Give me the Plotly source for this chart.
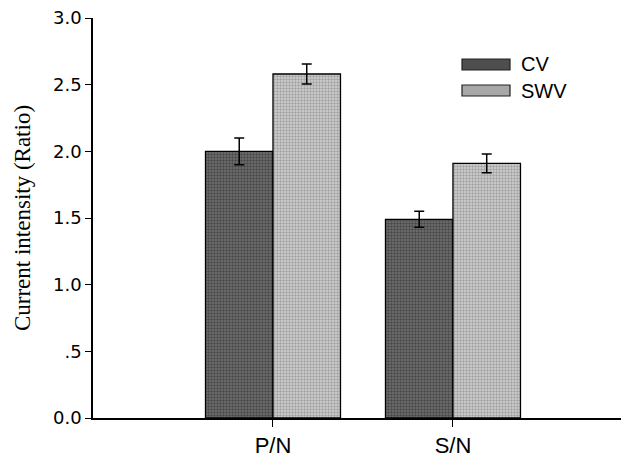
import plotly.graph_objects as go

categories = ["P/N", "S/N"]
cv_values = [2.00, 1.49]
cv_errors = [0.10, 0.06]
swv_values = [2.58, 1.91]
swv_errors = [0.075, 0.07]
series_names = ["CV", "SWV"]
y_tickvals = [0, 0.5, 1.0, 1.5, 2.0, 2.5, 3.0]
y_ticktext = ["0.0", ".5", "1.0", "1.5", "2.0", "2.5", "3.0"]

CV_FG, CV_BG, CV_AVG = "#1e1e1e", "#727272", "#4e4e4e"
SWV_FG, SWV_BG, SWV_AVG = "#6e6e6e", "#d4d4d4", "#a8a8a8"

fig = go.Figure()
fig.add_trace(go.Bar(
    name=series_names[0], x=categories, y=cv_values,
    error_y=dict(type="data", array=cv_errors, color="black", thickness=1.5, width=5),
    marker=dict(color=CV_AVG, line=dict(color="black", width=1.3),
                pattern=dict(shape=".", size=3, solidity=0.5, fgcolor=CV_FG, bgcolor=CV_BG)),
    showlegend=False,
))
fig.add_trace(go.Bar(
    name=series_names[1], x=categories, y=swv_values,
    error_y=dict(type="data", array=swv_errors, color="black", thickness=1.5, width=5),
    marker=dict(color=SWV_AVG, line=dict(color="black", width=1.3),
                pattern=dict(shape=".", size=3, solidity=0.5, fgcolor=SWV_FG, bgcolor=SWV_BG)),
    showlegend=False,
))

# page body has an 8px margin; the plot area spans x 93..629, y 18..418 on screen
PX0, PX1, PY0, PY1 = 93, 629, 18, 418

def px(x):
    return (x - PX0) / (PX1 - PX0)

def py(y):
    return (PY1 - y) / (PY1 - PY0)

legend_items = [(series_names[0], CV_AVG, 64.5), (series_names[1], SWV_AVG, 90.5)]
for name, fill, yc in legend_items:
    fig.add_shape(type="rect", xref="paper", yref="paper",
                  x0=px(462), x1=px(510), y0=py(yc + 5.5), y1=py(yc - 5.5),
                  line=dict(color="#222", width=1.2), fillcolor=fill)
    fig.add_annotation(xref="paper", yref="paper", x=px(519), y=py(yc), text=name,
                       showarrow=False, xanchor="left", yanchor="middle",
                       font=dict(family="Liberation Sans, Arial", size=20, color="black"))

fig.update_layout(
    width=621, height=453,
    margin=dict(l=PX0 - 8, r=0, t=PY0 - 8, b=461 - PY1),
    paper_bgcolor="white", plot_bgcolor="white",
    barmode="group", bargap=0.25, bargroupgap=0,
    font=dict(family="Liberation Sans, Arial", size=20, color="black"),
)
fig.update_xaxes(
    range=[-1.0, 1.978], showline=True, linecolor="black", linewidth=1.5,
    ticks="outside", ticklen=7, tickcolor="black", tickwidth=1,
    showgrid=False, zeroline=False,
    tickfont=dict(family="Liberation Sans, Arial", size=22),
)
fig.update_yaxes(
    range=[0, 3], showline=True, linecolor="black", linewidth=1.5,
    ticks="outside", ticklen=6, tickcolor="black", tickwidth=1,
    tickvals=y_tickvals, ticktext=y_ticktext, ticklabeloverflow="allow",
    showgrid=False, zeroline=False,
    tickfont=dict(family="DejaVu Sans", size=18),
    title=dict(text="Current intensity (Ratio)", standoff=16,
               font=dict(family="Liberation Serif, Times New Roman", size=23)),
)

fig.write_html("out.html")
